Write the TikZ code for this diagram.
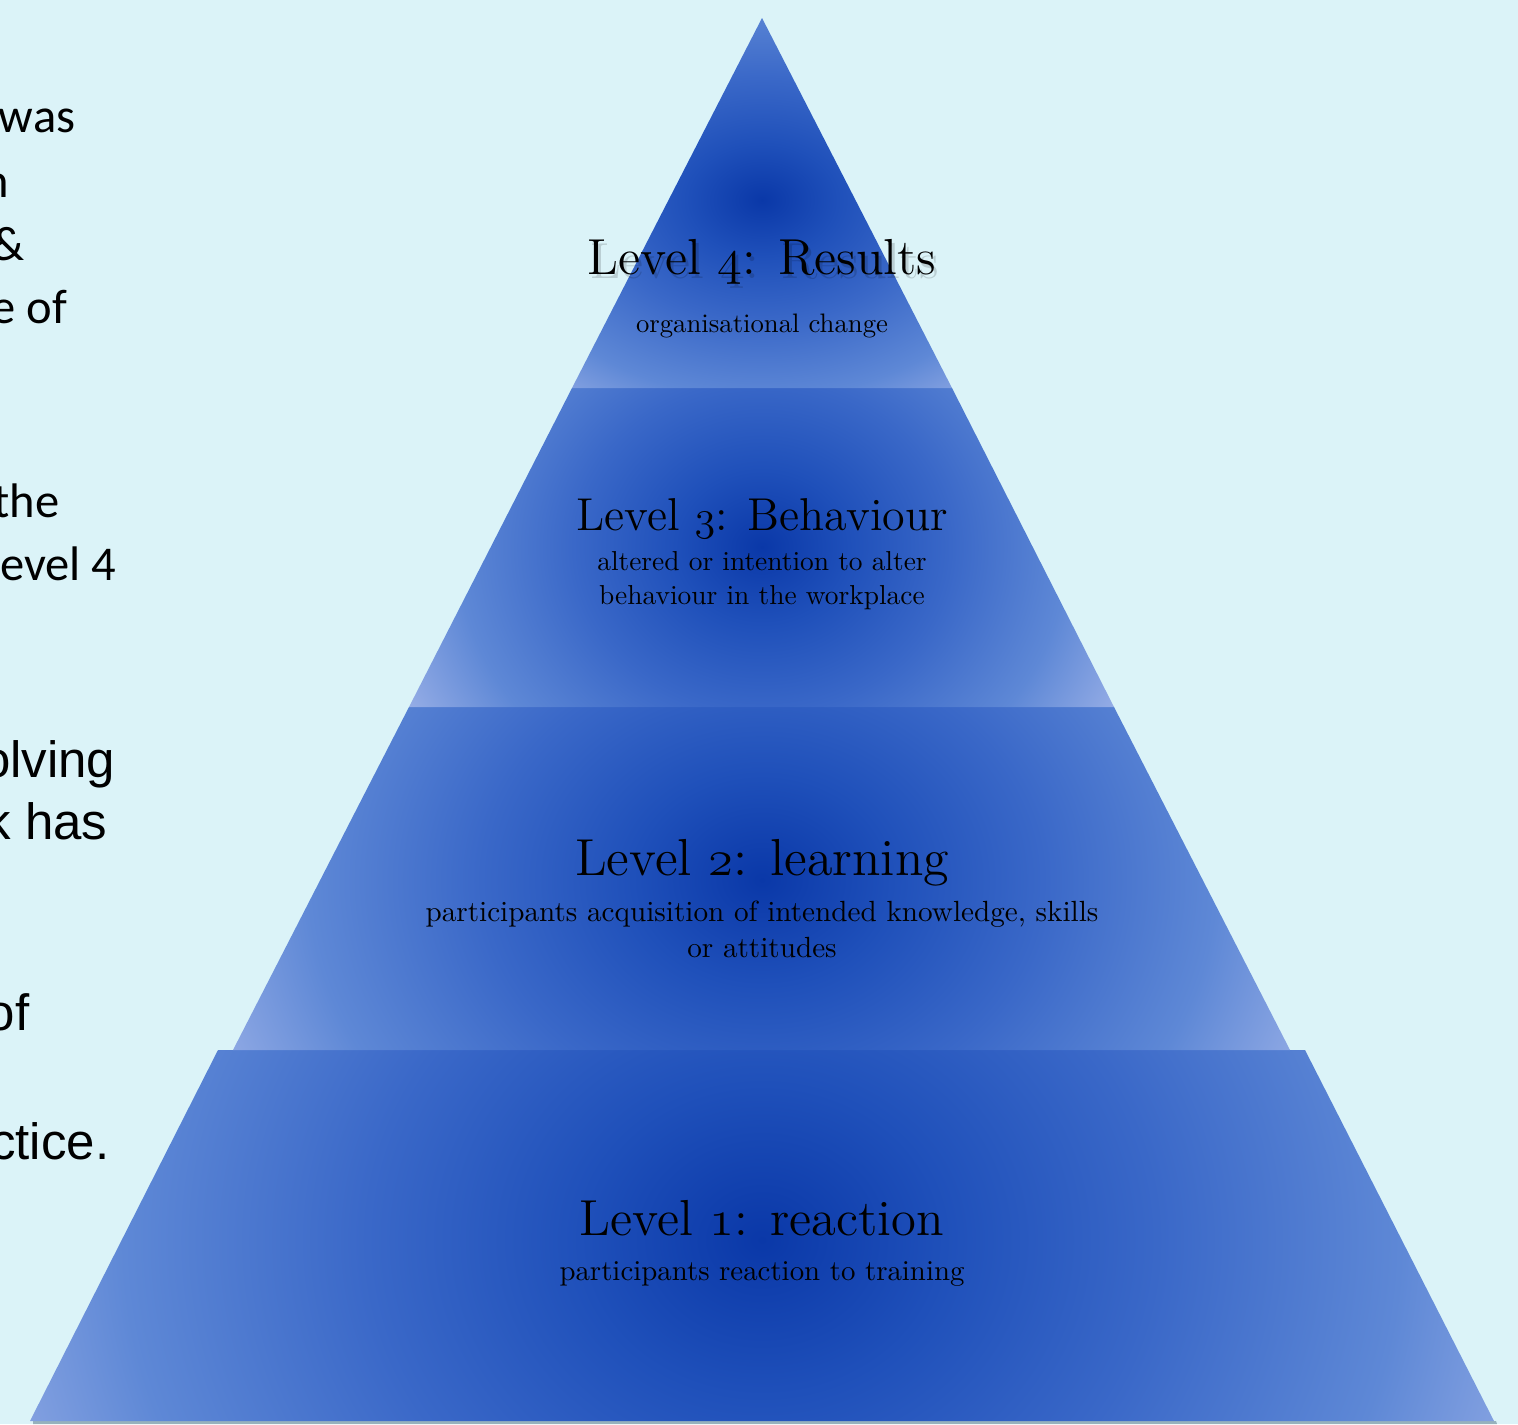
\documentclass[tikz,border=0pt]{standalone}
\usepackage{fontspec}
\newfontfamily\calfont{Carlito}
\newfontfamily\arialfont{Liberation Sans}
\newfontfamily\notefont{lmroman10-regular}[Extension=.otf]
\usepackage{xcolor}
\usepackage{tikz}

\definecolor{slidebg}{RGB}{219,243,248}
\definecolor{pyrdark}{RGB}{10,56,168}
\definecolor{pyrdeep}{RGB}{31,80,186}
\definecolor{pyrmid}{RGB}{58,104,200}
\definecolor{pyrsoft}{RGB}{94,136,214}
\definecolor{pyredge}{RGB}{172,188,236}
\definecolor{pyrshadow}{RGB}{104,136,150}

\pgfdeclareradialshading{levelshade}{\pgfpoint{0bp}{0bp}}{%
  color(0bp)=(pyrdark); color(6bp)=(pyrdeep); color(13bp)=(pyrmid);
  color(21bp)=(pyrsoft); color(30bp)=(pyredge); color(50bp)=(pyredge)}

\newcommand\lvlnum[1]{{\usefont{OML}{cmm}{m}{it}#1}}

\begin{document}
\begin{tikzpicture}[x=0.01cm, y=-0.01cm,
leveltitle/.style={inner sep=0pt, anchor=base, font=\fontsize{14.4}{17}\selectfont},
levelnote/.style={inner sep=0pt, align=center, font=\notefont\fontsize{8}{9.7}\selectfont},
calline/.style={inner sep=0pt, anchor=base east, font=\calfont\fontsize{13.8}{16}\selectfont},
arialline/.style={inner sep=0pt, anchor=base east, font=\arialfont\fontsize{14.5}{17}\selectfont},
]

\useasboundingbox (0,0) rectangle (1518,1424);
\fill[slidebg] (0,0) rectangle (1518,1424);

% text cut off at the left edge of the slide
\begin{scope}
\clip (0,0) rectangle (1518,1424);
\node (was) [calline] at (76,132) {was};
\node (ln) [calline] at (10,197) {n};
\node (amp) [calline] at (25,260) {\&};
\node (eof) [calline] at (68,323) {e of};
\node (the) [calline] at (60,517) {the};
\node (evel) [calline] at (117,580) {evel 4};
\node (olving) [arialline] at (116,777) {olving};
\node (khas) [arialline] at (108,839) {k has};
\node (of) [arialline] at (30,1030) {of};
\node (ctice) [arialline] at (110,1159) {ctice.};
\end{scope}

% shadow under the base
\fill[pyrshadow, opacity=0.6] (33,1421) -- (1496,1421) -- (1497,1424) -- (33,1424) -- cycle;

% level 1
\begin{scope}
\clip (218,1050) -- (1305,1050) -- (1494,1421) -- (30,1421) -- cycle;
\shade[shading=levelshade] (2,590) rectangle (1522,1890);
\end{scope}
% level 2
\begin{scope}
\clip (409,707) -- (1114,707) -- (1290,1050) -- (233,1050) -- cycle;
\shade[shading=levelshade] (222,440) rectangle (1302,1320);
\end{scope}
% level 3
\begin{scope}
\clip (572,388) -- (952,388) -- (1114,707) -- (409,707) -- cycle;
\shade[shading=levelshade] (399,227) rectangle (1125,867);
\end{scope}
% level 4
\begin{scope}
\clip (762,18) -- (952,388) -- (572,388) -- cycle;
\shade[shading=levelshade] (445,-35) rectangle (1079,435);
\end{scope}

\node (title4shade) [leveltitle, text=black, opacity=0.15] at (765,278) {Level \lvlnum{4}: Results};
\node (title4) [leveltitle] at (762,274) {Level \lvlnum{4}: Results};
\node (note4) [levelnote, anchor=base, font=\notefont\fontsize{7.6}{9}\selectfont] at (762,332) {organisational change};

\node (title3) [leveltitle, font=\fontsize{13.1}{16}\selectfont] at (762,530) {Level \lvlnum{3}: Behaviour};
\node (note3) [levelnote, anchor=north, font=\notefont\fontsize{7.8}{9.6}\selectfont] at (762,551) {altered or intention to alter\\behaviour in the workplace};

\node (title2) [leveltitle, font=\fontsize{14.8}{17}\selectfont] at (762,875) {Level \lvlnum{2}: learning};
\node (note2) [levelnote, anchor=north, font=\notefont\fontsize{8.3}{10.2}\selectfont] at (762,900) {participants acquisition of intended knowledge, skills\\or attitudes};

\node (title1) [leveltitle] at (762,1235) {Level \lvlnum{1}: reaction};
\node (note1) [levelnote, anchor=base, font=\notefont\fontsize{8.2}{10}\selectfont] at (762,1280) {participants reaction to training};

\end{tikzpicture}
\end{document}
